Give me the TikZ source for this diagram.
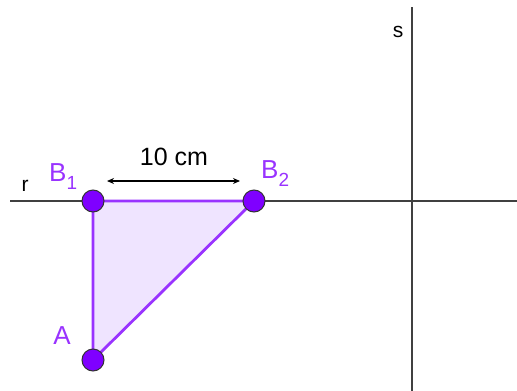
\documentclass[tikz,border=0pt]{standalone}
\usepackage{fontspec}
\setmainfont{Liberation Sans}
\usetikzlibrary{arrows.meta}
\definecolor{pt}{HTML}{7F00FF}
\definecolor{seg}{HTML}{9933FF}
\definecolor{lab}{HTML}{9933FF}
\definecolor{tri}{HTML}{EFE4FF}
\definecolor{axis}{HTML}{404040}
\tikzset{
  axisline/.style={draw=axis, line width=2.4pt},
  segline/.style={draw=seg, line width=2.8pt},
  ptnode/.style={circle, fill=pt, draw=black!80, line width=1pt, minimum size=22pt, inner sep=0pt},
  ptlab/.style={text=lab, font=\fontsize{26}{30}\selectfont, inner sep=0pt},
  axlab/.style={text=black, font=\fontsize{21}{24}\selectfont, inner sep=0pt},
}
\begin{document}
\begin{tikzpicture}[x=1pt,y=-1pt]
\useasboundingbox (0,0) rectangle (517,391);
\coordinate (rL) at (10,201);
\coordinate (rR) at (517,201);
\coordinate (sT) at (412,7);
\coordinate (sB) at (412,391);
\draw[axisline] (rL) -- (rR);
\draw[axisline] (sT) -- (sB);
\coordinate (a) at (93,360);
\coordinate (b1) at (93,201);
\coordinate (b2) at (254,201);
\fill[tri] (a) -- (b1) -- (b2) -- cycle;
\draw[segline, line join=round] (a) -- (b1) -- (b2) -- cycle;
\node[ptnode] (A) at (a) {};
\node[ptnode] (B1) at (b1) {};
\node[ptnode] (B2) at (b2) {};
\node[ptlab] (lA) at (62,336) {A};
\node[ptlab, anchor=base west] (lB1) at (49,181) {B\raisebox{-8pt}{\fontsize{19}{22}\selectfont 1}};
\node[ptlab, anchor=base west] (lB2) at (261,178) {B\raisebox{-8pt}{\fontsize{19}{22}\selectfont 2}};
\node[axlab] (lr) at (25,186) {r};
\node[axlab] (ls) at (398,32) {s};
\coordinate (d1) at (107,181);
\coordinate (d2) at (240,181);
\draw[line width=1.4pt, {Stealth[length=7pt,width=6pt]}-{Stealth[length=7pt,width=6pt]}] (d1) -- (d2);
\node[font=\fontsize{25}{29}\selectfont, inner sep=0pt] (dim) at (174,157) {10 cm};
\end{tikzpicture}
\end{document}
